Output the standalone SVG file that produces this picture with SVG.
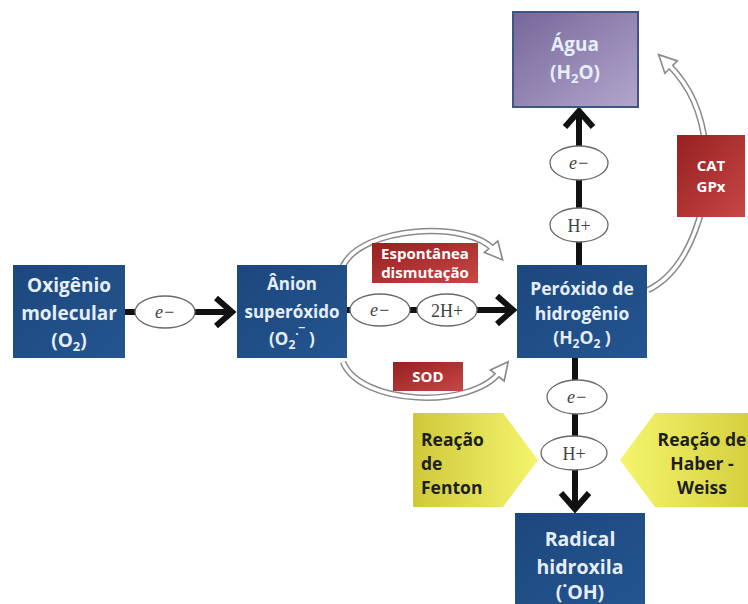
<svg xmlns="http://www.w3.org/2000/svg" width="748" height="604" viewBox="0 0 748 604">
<defs>
<linearGradient id="gBlue" x1="0" y1="0" x2="1" y2="1"><stop offset="0" stop-color="#1c477d"/><stop offset="1" stop-color="#245590"/></linearGradient>
<linearGradient id="gPurple" x1="0" y1="0" x2="1" y2="1"><stop offset="0" stop-color="#76669a"/><stop offset="1" stop-color="#b2a6cc"/></linearGradient>
<linearGradient id="gRed" x1="0" y1="0" x2="1" y2="1"><stop offset="0" stop-color="#962020"/><stop offset="1" stop-color="#c84646"/></linearGradient>
<linearGradient id="gYelL" x1="0" y1="0" x2="1" y2="0"><stop offset="0" stop-color="#cfc83a"/><stop offset="1" stop-color="#f4f56e"/></linearGradient>
<linearGradient id="gYelR" x1="1" y1="0" x2="0" y2="0"><stop offset="0" stop-color="#d6d03e"/><stop offset="1" stop-color="#f4f56e"/></linearGradient>
<marker id="ha" viewBox="0 0 20 20" refX="6" refY="10" markerWidth="22" markerHeight="22" markerUnits="userSpaceOnUse" orient="auto"><path d="M2,2 L18,10 L2,18 Z" fill="#fff" stroke="#8a8a8a" stroke-width="1.5"/></marker>
</defs>
<style>
.box{fill:url(#gBlue)}
.red{fill:url(#gRed)}
.bt{font-family:"Open Sans","Liberation Sans",sans-serif;font-weight:700;fill:#e6eefa;text-anchor:middle}
.wt{font-family:"Open Sans","Liberation Sans",sans-serif;font-weight:700;fill:#ffffff;text-anchor:middle}
.yt{font-family:"Open Sans","Liberation Sans",sans-serif;font-weight:700;fill:#1e1e1e;font-size:17.5px}
.ell{fill:#fff;stroke:#6a6a6a;stroke-width:1.3}
.et{font-family:"Liberation Serif","DejaVu Serif",serif;fill:#444;text-anchor:middle;font-size:18px}
.blk{stroke:#111;stroke-width:6;fill:none}
.chev{stroke:#111;stroke-width:6;fill:none;stroke-linejoin:miter;stroke-linecap:butt}
.hout{fill:none;stroke:#8a8a8a;stroke-width:6.5}
.hin{fill:none;stroke:#fff;stroke-width:3.5}
</style>

<g id="connectors">
  <!-- black reaction arrows -->
  <line class="blk" x1="125" y1="312" x2="230" y2="312"/>
  <polyline class="chev" points="216,298 232,312 216,326"/>
  <line class="blk" x1="347" y1="310" x2="511" y2="310"/>
  <polyline class="chev" points="497,296 513,310 497,324"/>
  <line class="blk" x1="579" y1="265" x2="579" y2="112"/>
  <polyline class="chev" points="565,127 579,111 593,127"/>
  <line class="blk" x1="575" y1="358" x2="575" y2="508"/>
  <polyline class="chev" points="561,493 575,509 589,493"/>
  <!-- hollow curved arrows -->
  <path class="hout" d="M343,266 C362,226 468,220 494,250" marker-end="url(#ha)"/>
  <path class="hin" d="M343,266 C362,226 468,220 494,250"/>
  <path class="hout" d="M343,362 C360,405 470,410 500,372" marker-end="url(#ha)"/>
  <path class="hin" d="M343,362 C360,405 470,410 500,372"/>
  <path class="hout" d="M648,290 C690,270 712,200 706,150 C702,112 690,86 668,64" marker-end="url(#ha)"/>
  <path class="hin" d="M648,290 C690,270 712,200 706,150 C702,112 690,86 668,64"/>
  <!-- ellipses on connectors -->
  <ellipse class="ell" cx="165" cy="312" rx="30" ry="16"/>
  <text class="et" x="165" y="318" font-style="italic">e−</text>
  <ellipse class="ell" cx="380" cy="310" rx="30" ry="16"/>
  <text class="et" x="380" y="316" font-style="italic">e−</text>
  <ellipse class="ell" cx="447" cy="310" rx="30" ry="16"/>
  <text class="et" x="447" y="316.5">2H+</text>
  <ellipse class="ell" cx="579" cy="163" rx="29" ry="17"/>
  <text class="et" x="579" y="169" font-style="italic">e−</text>
  <ellipse class="ell" cx="579" cy="225" rx="29" ry="17"/>
  <text class="et" x="579" y="231.5">H+</text>
  <ellipse class="ell" cx="577" cy="397" rx="30" ry="17"/>
  <text class="et" x="577" y="403" font-style="italic">e−</text>
  <ellipse class="ell" cx="574" cy="453" rx="33" ry="17"/>
  <text class="et" x="574" y="459.5">H+</text>
</g>

<g id="oxigenio">
  <rect class="box" x="13" y="265" width="112" height="93"/>
  <text class="bt" font-size="19" x="69" y="292">Oxigênio</text>
  <text class="bt" font-size="19" x="69" y="320">molecular</text>
  <text class="bt" font-size="19" x="69" y="347">(O<tspan font-size="13" dy="4">2</tspan><tspan dy="-4">)</tspan></text>
</g>

<g id="anion">
  <rect class="box" x="237" y="265" width="110" height="93"/>
  <text class="bt" font-size="17" x="292" y="290">Ânion</text>
  <text class="bt" font-size="17" x="292" y="318">superóxido</text>
  <text class="bt" font-size="17" x="292" y="345">(O<tspan font-size="12" dy="4">2</tspan><tspan font-size="12" dy="-11">·¯</tspan><tspan dy="7"> )</tspan></text>
</g>

<g id="peroxido">
  <rect class="box" x="517" y="265" width="130" height="93"/>
  <text class="bt" font-size="17.5" x="582" y="295">Peróxido de</text>
  <text class="bt" font-size="17.5" x="582" y="320">hidrogênio</text>
  <text class="bt" font-size="17.5" x="582" y="344">(H<tspan font-size="12" dy="4">2</tspan><tspan dy="-4">O</tspan><tspan font-size="12" dy="4">2</tspan><tspan dy="-4"> )</tspan></text>
</g>

<g id="agua">
  <rect x="513" y="12" width="125" height="95" fill="url(#gPurple)" stroke="#3d5684" stroke-width="2"/>
  <text class="bt" font-size="19" x="575" y="51" fill="#f0ecf8">Água</text>
  <text class="bt" font-size="19" x="575" y="79" fill="#f0ecf8">(H<tspan font-size="13" dy="4">2</tspan><tspan dy="-4">O)</tspan></text>
</g>

<g id="radical">
  <rect class="box" x="515" y="513" width="130" height="91"/>
  <text class="bt" font-size="19.5" x="580" y="546">Radical</text>
  <text class="bt" font-size="19.5" x="580" y="574">hidroxila</text>
  <text class="bt" font-size="19.5" x="580" y="599">(˙OH)</text>
</g>

<g id="espontanea">
  <rect class="red" x="372" y="243" width="106" height="40"/>
  <text class="wt" font-size="15" x="425" y="259">Espontânea</text>
  <text class="wt" font-size="15" x="425" y="278">dismutação</text>
</g>

<g id="sod">
  <rect class="red" x="393" y="362" width="70" height="29"/>
  <text class="wt" font-size="15" x="428" y="382">SOD</text>
</g>

<g id="catgpx">
  <rect class="red" x="677" y="135" width="68" height="82"/>
  <text class="wt" font-size="15" x="711" y="171">CAT</text>
  <text class="wt" font-size="15" x="711" y="192">GPx</text>
</g>

<g id="fenton">
  <polygon points="413,413 503,413 538,460 503,507 413,507" fill="url(#gYelL)"/>
  <text class="yt" x="421" y="446">Reação</text>
  <text class="yt" x="421" y="470">de</text>
  <text class="yt" x="421" y="494">Fenton</text>
</g>

<g id="haberweiss">
  <polygon points="748,413 655,413 620,460 655,507 748,507" fill="url(#gYelR)"/>
  <text class="yt" x="702" y="446" text-anchor="middle">Reação de</text>
  <text class="yt" x="702" y="470" text-anchor="middle">Haber -</text>
  <text class="yt" x="702" y="494" text-anchor="middle">Weiss</text>
</g>
</svg>
